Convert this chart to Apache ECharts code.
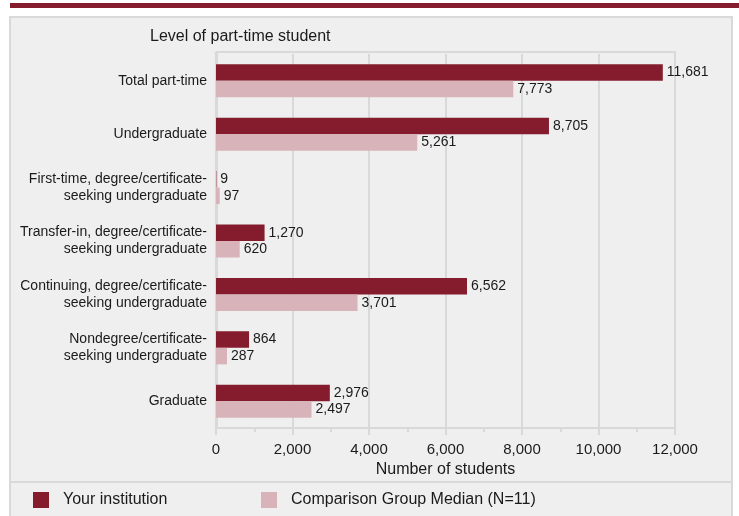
<!DOCTYPE html>
<html>
<head>
<meta charset="utf-8">
<script src="https://cdn.jsdelivr.net/npm/echarts@6/dist/echarts.min.js"></script>
<style>
html,body{margin:0;padding:0;background:#fff;}
#chart{width:739px;height:516px;}
</style>
</head>
<body>
<div id="chart"></div>
<script>
const categories = [
  'Total part-time',
  'Undergraduate',
  'First-time, degree/certificate-\nseeking undergraduate',
  'Transfer-in, degree/certificate-\nseeking undergraduate',
  'Continuing, degree/certificate-\nseeking undergraduate',
  'Nondegree/certificate-\nseeking undergraduate',
  'Graduate'
];
const yourInstitution = [11681, 8705, 9, 1270, 6562, 864, 2976];
const comparisonMedian = [7773, 5261, 97, 620, 3701, 287, 2497];
const seriesNames = ['Your institution', 'Comparison Group Median (N=11)'];
const axisTitle = 'Number of students';
const catTitle = 'Level of part-time student';

const FONT = 'Liberation Sans, Arial, sans-serif';
const DARK = '#841c2e';
const PINK = '#d8b3b9';
const fmt = v => Number(v).toLocaleString('en-US');

const chart = echarts.init(document.getElementById('chart'));
chart.setOption({
  animation: false,
  textStyle: {fontFamily: FONT},
  graphic: [
    {type: 'rect', z: -10, shape: {x: 10, y: 3, width: 729, height: 5}, style: {fill: DARK}},
    {type: 'rect', z: -10, shape: {x: 10, y: 17, width: 722, height: 510}, style: {fill: '#efefef', stroke: '#d9d9d9', lineWidth: 2}},
    {type: 'line', z: -9, shape: {x1: 10, y1: 482, x2: 732, y2: 482}, style: {stroke: '#d9d9d9', lineWidth: 2}},
    {type: 'line', z: -9, shape: {x1: 216, y1: 52, x2: 676, y2: 52}, style: {stroke: '#d9d9d9', lineWidth: 2}},
    {type: 'line', z: -9, shape: {x1: 675, y1: 52, x2: 675, y2: 54}, style: {stroke: '#d9d9d9', lineWidth: 2}},
    {type: 'line', z: -9, shape: {x1: 216, y1: 52, x2: 216, y2: 54}, style: {stroke: '#d9d9d9', lineWidth: 3}}
  ],
  title: {
    text: catTitle, left: 150, top: 29, padding: 0,
    textStyle: {fontSize: 16, fontWeight: 'normal', color: '#1a1a1a', fontFamily: FONT}
  },
  legend: [
    {data: [seriesNames[0]], left: 33, top: 492, padding: 0, itemWidth: 16, itemHeight: 16, icon: 'rect',
     textStyle: {fontSize: 16, color: '#1a1a1a', padding: [0, 0, 0, 9], fontFamily: FONT}},
    {data: [seriesNames[1]], left: 261, top: 492, padding: 0, itemWidth: 16, itemHeight: 16, icon: 'rect',
     textStyle: {fontSize: 16, color: '#1a1a1a', padding: [0, 0, 0, 9], fontFamily: FONT}}
  ],
  grid: {left: 216, right: 64, top: 54, bottom: 88, show: false},
  xAxis: {
    type: 'value', min: 0, max: 12000, interval: 2000,
    name: axisTitle, nameLocation: 'middle', nameGap: 34,
    nameTextStyle: {fontSize: 16, color: '#1a1a1a', fontFamily: FONT},
    axisLine: {show: true, lineStyle: {color: '#d9d9d9', width: 2}},
    axisTick: {show: true, length: 7, lineStyle: {color: '#d9d9d9', width: 2}},
    minorTick: {show: true, splitNumber: 2, length: 4, lineStyle: {color: '#d9d9d9', width: 2}},
    splitLine: {show: true, lineStyle: {color: '#d9d9d9', width: 2}},
    axisLabel: {fontSize: 15, color: '#1a1a1a', margin: 14, formatter: v => fmt(v), fontFamily: FONT}
  },
  yAxis: {
    type: 'category', data: categories, inverse: true,
    axisLine: {show: true, lineStyle: {color: '#d9d9d9', width: 3}},
    axisTick: {show: false},
    axisLabel: {fontSize: 14, color: '#1a1a1a', margin: 9, lineHeight: 17, align: 'right', fontFamily: FONT}
  },
  series: [
    {name: seriesNames[0], type: 'bar', data: yourInstitution, barWidth: 16.5, barGap: '0%',
     itemStyle: {color: DARK},
     label: {show: true, position: 'right', distance: 4, fontSize: 14, color: '#1a1a1a', formatter: p => fmt(p.value), fontFamily: FONT}},
    {name: seriesNames[1], type: 'bar', data: comparisonMedian, barWidth: 16.5, barGap: '0%',
     itemStyle: {color: PINK},
     label: {show: true, position: 'right', distance: 4, fontSize: 14, color: '#1a1a1a', formatter: p => fmt(p.value), fontFamily: FONT}}
  ]
});
</script>
</body>
</html>
